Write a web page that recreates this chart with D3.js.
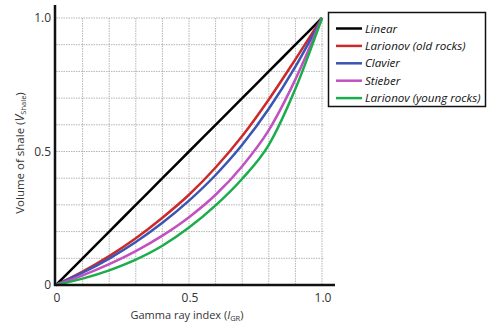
<!DOCTYPE html>
<html>
<head>
<meta charset="utf-8">
<script src="https://cdn.jsdelivr.net/npm/d3@7"></script>
<style>
  body { margin: 0; background: #fff; }
  svg text { font-family: "Open Sans", "Liberation Sans", sans-serif; }
</style>
</head>
<body>
<div id="chart"></div>
<script>
// Gamma ray index values (x) and shale volume
const gammaIndex = [0, 0.1, 0.2, 0.3, 0.4, 0.5, 0.6, 0.7, 0.8, 0.9, 1.0];
const linear      = [0, 0.1, 0.2, 0.3, 0.4, 0.5, 0.6, 0.7, 0.8, 0.9, 1.0];
const larionovOld = [0, 0.050, 0.108, 0.175, 0.252, 0.338, 0.440, 0.558, 0.695, 0.845, 1.0];
const clavier     = [0, 0.046, 0.099, 0.161, 0.233, 0.316, 0.412, 0.525, 0.660, 0.818, 1.0];
const stieber     = [0, 0.036, 0.078, 0.127, 0.185, 0.254, 0.338, 0.445, 0.580, 0.770, 1.0];
const larionovYoung = [0, 0.024, 0.055, 0.095, 0.147, 0.215, 0.298, 0.398, 0.525, 0.735, 1.0];

const seriesNames = ['Linear', 'Larionov (old rocks)', 'Clavier', 'Stieber', 'Larionov (young rocks)'];
const seriesValues = [linear, larionovOld, clavier, stieber, larionovYoung];
const seriesColors = ['#000000', '#cc2a2a', '#3a55b3', '#c250c0', '#1bad4c'];

const axisTicks = [0, 0.5, 1.0];
const gridTicks = d3.range(1, 11).map(d => d / 10);

const width = 487;
const height = 324;

const svg = d3.select('#chart').append('svg')
  .attr('width', width)
  .attr('height', height);

const x = d3.scaleLinear().domain([0, 1]).range([56, 322]);
const y = d3.scaleLinear().domain([0, 1]).range([285, 18]);

// dotted grid
svg.append('g')
  .selectAll('line')
  .data(gridTicks)
  .enter().append('line')
  .attr('x1', d => x(d)).attr('x2', d => x(d))
  .attr('y1', y(1)).attr('y2', y(0))
  .attr('stroke', '#b4b4b4')
  .attr('stroke-width', 1)
  .attr('stroke-dasharray', '1.5,1');

svg.append('g')
  .selectAll('line')
  .data(gridTicks)
  .enter().append('line')
  .attr('x1', x(0)).attr('x2', x(1) + 2)
  .attr('y1', d => y(d)).attr('y2', d => y(d))
  .attr('stroke', '#b4b4b4')
  .attr('stroke-width', 1)
  .attr('stroke-dasharray', '1.5,1');

// curves
const line = d3.line()
  .x((d, i) => x(gammaIndex[i]))
  .y(d => y(d))
  .curve(d3.curveMonotoneX);

svg.append('g')
  .selectAll('path')
  .data(seriesValues)
  .enter().append('path')
  .attr('d', d => line(d))
  .attr('fill', 'none')
  .attr('stroke', (d, i) => seriesColors[i])
  .attr('stroke-width', 2.5)
  .attr('stroke-linejoin', 'round');

// axes lines
svg.append('line')
  .attr('x1', x(0) - 1).attr('x2', x(0) - 1)
  .attr('y1', 5).attr('y2', y(0) + 1)
  .attr('stroke', '#111').attr('stroke-width', 2.5);
svg.append('line')
  .attr('x1', x(0) - 2).attr('x2', 335)
  .attr('y1', y(0)).attr('y2', y(0))
  .attr('stroke', '#111').attr('stroke-width', 2.5);

// tick labels
const fmt = d => d === 0 ? '0' : d.toFixed(1);
svg.append('g')
  .selectAll('text')
  .data(axisTicks)
  .enter().append('text')
  .attr('x', 51)
  .attr('y', d => y(d))
  .attr('dy', '0.35em')
  .attr('text-anchor', 'end')
  .attr('fill', '#333')
  .attr('font-size', '12px')
  .text(fmt);

svg.append('g')
  .selectAll('text')
  .data(axisTicks)
  .enter().append('text')
  .attr('x', d => x(d) + 1)
  .attr('y', 302)
  .attr('text-anchor', 'middle')
  .attr('fill', '#333')
  .attr('font-size', '12px')
  .text(fmt);

// axis titles
const xTitle = svg.append('text')
  .attr('x', 187)
  .attr('y', 319)
  .attr('text-anchor', 'middle')
  .attr('fill', '#333')
  .attr('font-size', '11px');
xTitle.append('tspan').text('Gamma ray index (');
xTitle.append('tspan').attr('font-style', 'italic').text('I');
xTitle.append('tspan').attr('font-size', '7.5px').attr('dy', '2').text('GR');
xTitle.append('tspan').attr('dy', '-2').text(')');

const yTitle = svg.append('text')
  .attr('transform', 'translate(24,153) rotate(-90)')
  .attr('text-anchor', 'middle')
  .attr('fill', '#333')
  .attr('font-size', '11.5px');
yTitle.append('tspan').text('Volume of shale (');
yTitle.append('tspan').attr('font-style', 'italic').attr('font-size', '12.5px').text('V');
yTitle.append('tspan').attr('font-size', '7.5px').attr('dy', '2').text('Shale');
yTitle.append('tspan').attr('dy', '-2').text(')');

// legend
const legend = svg.append('g');
legend.append('rect')
  .attr('x', 328.5).attr('y', 12.5)
  .attr('width', 157).attr('height', 94)
  .attr('fill', '#fff')
  .attr('stroke', '#111')
  .attr('stroke-width', 1.5);

const rows = legend.selectAll('g.row')
  .data(seriesNames)
  .enter().append('g')
  .attr('class', 'row')
  .attr('transform', (d, i) => `translate(0,${28.5 + i * 17.4})`);

rows.append('line')
  .attr('x1', 336).attr('x2', 362)
  .attr('y1', 0).attr('y2', 0)
  .attr('stroke', (d, i) => seriesColors[i])
  .attr('stroke-width', 2.5);

rows.append('text')
  .attr('x', 365)
  .attr('dy', '0.35em')
  .attr('font-size', '11.6px')
  .attr('font-style', 'italic')
  .attr('fill', '#111')
  .text(d => d);
</script>
</body>
</html>
